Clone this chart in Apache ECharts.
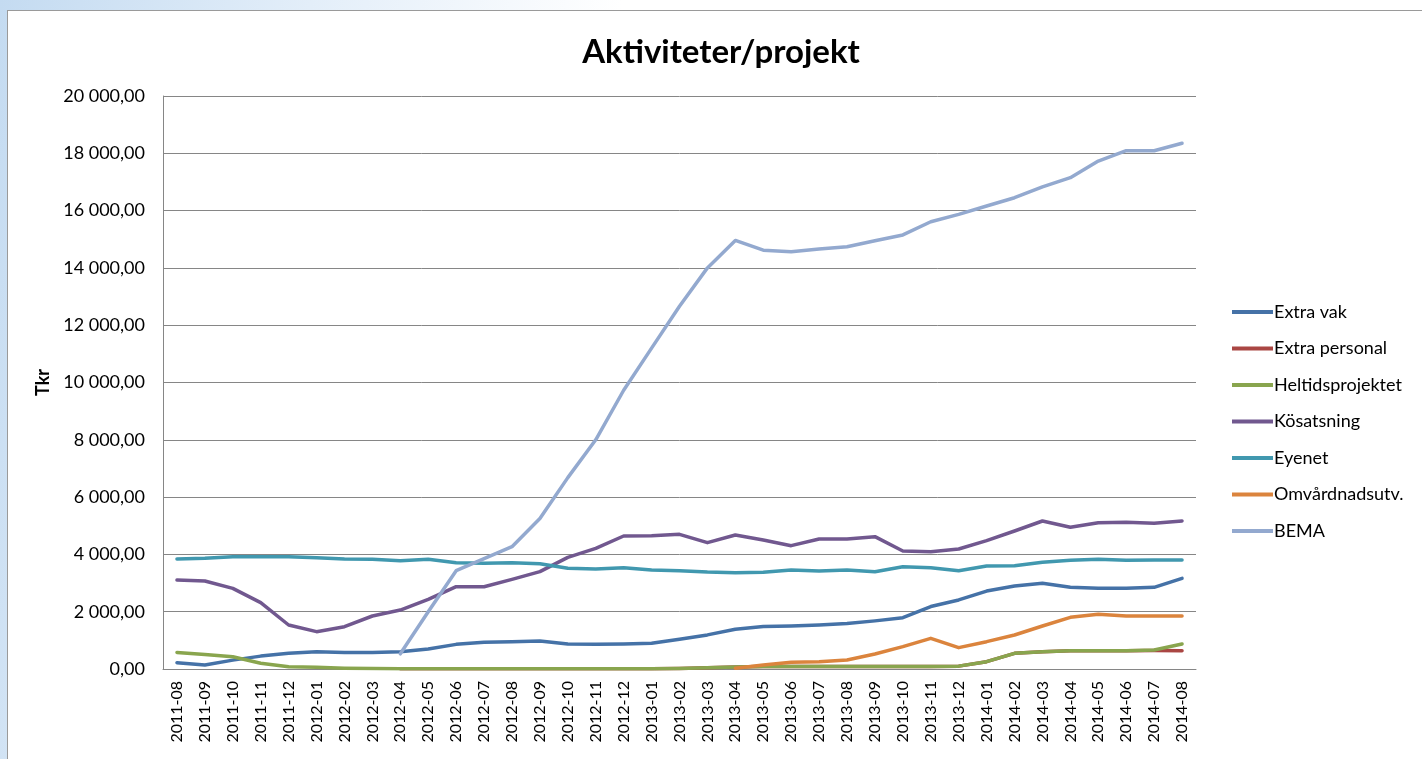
<!DOCTYPE html>
<html>
<head>
<meta charset="utf-8">
<title>Aktiviteter/projekt</title>
<script src="https://cdn.jsdelivr.net/npm/echarts@6.0.0/dist/echarts.min.js"></script>
<style>
	html, body {
		margin: 0;
		padding: 0;
		width: 1422px;
		height: 759px;
		overflow: hidden;
		background: linear-gradient(100deg, #c4dbf1 0%, #e3eef9 20%, #ffffff 40%);
	}
	.frame {
		position: absolute;
		left: 7px;
		top: 10px;
		width: 1430px;
		height: 760px;
		background: #fff;
		border: 1px solid #9a9a9a;
	}
	#chart {
		position: absolute;
		left: 0;
		top: 0;
		width: 1422px;
		height: 759px;
	}
</style>
</head>
<body>
<div class="frame"></div>
<div id="chart"></div>
<script>
	// kategorier (månader)
	var months = ['2011-08', '2011-09', '2011-10', '2011-11', '2011-12',
		'2012-01', '2012-02', '2012-03', '2012-04', '2012-05', '2012-06', '2012-07', '2012-08', '2012-09', '2012-10', '2012-11', '2012-12',
		'2013-01', '2013-02', '2013-03', '2013-04', '2013-05', '2013-06', '2013-07', '2013-08', '2013-09', '2013-10', '2013-11', '2013-12',
		'2014-01', '2014-02', '2014-03', '2014-04', '2014-05', '2014-06', '2014-07', '2014-08'];

	var seriesNames = ['Extra vak', 'Extra personal', 'Heltidsprojektet', 'Kösatsning', 'Eyenet', 'Omvårdnadsutv.', 'BEMA'];

	var extraVak = [220, 140, 310, 450, 550, 600, 580, 580, 600, 700, 860, 930, 950, 980, 870, 860, 870,
		900, 1040, 1190, 1390, 1480, 1500, 1540, 1590, 1680, 1790, 2180, 2410,
		2720, 2900, 2990, 2850, 2815, 2815, 2850, 3165];

	var extraPersonal = [null, null, null, null, null, null, null, null, 10, 10, 10, 10, 10, 10, 10, 10, 10,
		10, 20, 40, 70, 90, 90, 90, 90, 90, 90, 90, 100,
		256, 547, 605, 640, 640, 640, 650, 640];

	var heltid = [580, 510, 430, 200, 80, 60, 30, 15, 10, 10, 10, 10, 10, 10, 10, 10, 10,
		10, 20, 40, 70, 90, 90, 90, 90, 90, 90, 90, 100,
		256, 547, 605, 640, 640, 640, 663, 873];

	var kosatsning = [3106, 3072, 2815, 2315, 1536, 1303, 1477, 1850, 2059, 2432, 2873, 2873, 3130, 3397, 3898, 4210, 4642,
		4654, 4700, 4410, 4677, 4503, 4305, 4538, 4538, 4620, 4119, 4095, 4188,
		4480, 4817, 5166, 4946, 5107, 5119, 5084, 5166];

	var eyenet = [3840, 3863, 3920, 3920, 3920, 3885, 3840, 3828, 3781, 3828, 3711, 3688, 3711, 3676, 3514, 3490, 3537,
		3456, 3432, 3386, 3362, 3374, 3456, 3421, 3456, 3397, 3572, 3530, 3432,
		3595, 3607, 3723, 3793, 3828, 3793, 3805, 3805];

	var omvardnad = [null, null, null, null, null, null, null, null, null, null, null, null, null, null, null, null, null,
		null, null, null, 30, 140, 233, 256, 314, 524, 780, 1071, 745,
		954, 1187, 1501, 1804, 1908, 1850, 1850, 1850];

	var bema = [null, null, null, null, null, null, null, null, 530, 2000, 3430, 3850, 4270, 5250, 6680, 8000, 9730,
		11200, 12660, 14000, 14960, 14620, 14560, 14660, 14740, 14950, 15150, 15610, 15870,
		16160, 16450, 16830, 17150, 17730, 18090, 18090, 18350];

	var colors = ['#4572A7', '#AA4643', '#89A54E', '#71588F', '#4198AF', '#DB843D', '#93A9CF'];
	var seriesData = [extraVak, extraPersonal, heltid, kosatsning, eyenet, omvardnad, bema];

	// 20 000,00
	function fmt(v) {
		var s = String(Math.round(v));
		s = s.replace(/\B(?=(\d{3})+(?!\d))/g, ' ');
		return s + ',00';
	}

	var font = 'Lato, "Open Sans", sans-serif';

	var chart = echarts.init(document.getElementById('chart'));
	chart.setOption({
		color: colors,
		animation: false,
		title: {
			text: 'Aktiviteter/projekt',
			left: 716,
			textAlign: 'center',
			top: 31,
			textStyle: {
				fontFamily: font,
				fontSize: 33,
				fontWeight: 'bold',
				color: '#000'
			}
		},
		legend: {
			orient: 'vertical',
			left: 1227,
			top: 297,
			icon: 'rect',
			itemWidth: 41,
			itemHeight: 4,
			itemGap: 16.5,
			data: seriesNames,
			textStyle: {
				fontFamily: font,
				fontSize: 18,
				lineHeight: 20,
				color: '#000',
				padding: [0, 0, 0, -4]
			}
		},
		grid: {
			left: 163,
			right: 226,
			top: 96,
			bottom: 90
		},
		xAxis: {
			type: 'category',
			data: months,
			boundaryGap: true,
			axisLine: { lineStyle: { color: '#868686', width: 1 } },
			axisTick: { show: false },
			axisLabel: {
				rotate: 90,
				interval: 0,
				margin: 12,
				fontFamily: font,
				fontSize: 16,
				color: '#000'
			}
		},
		yAxis: {
			type: 'value',
			min: 0,
			max: 20000,
			interval: 2000,
			name: 'Tkr',
			nameLocation: 'middle',
			nameRotate: 90,
			nameGap: 110,
			nameTextStyle: {
				fontFamily: font,
				fontSize: 18,
				fontWeight: 'bold',
				color: '#000'
			},
			axisLine: { show: true, lineStyle: { color: '#868686', width: 1 } },
			axisTick: { show: false },
			splitLine: { lineStyle: { color: '#868686', width: 1 } },
			axisLabel: {
				margin: 18,
				fontFamily: font,
				fontSize: 18,
				color: '#000',
				formatter: fmt
			}
		},
		series: seriesNames.map(function (name, i) {
			return {
				name: name,
				type: 'line',
				data: seriesData[i],
				showSymbol: false,
				symbol: 'none',
				connectNulls: false,
				lineStyle: { width: 3.5, cap: 'round', join: 'round' }
			};
		})
	});
</script>
</body>
</html>
